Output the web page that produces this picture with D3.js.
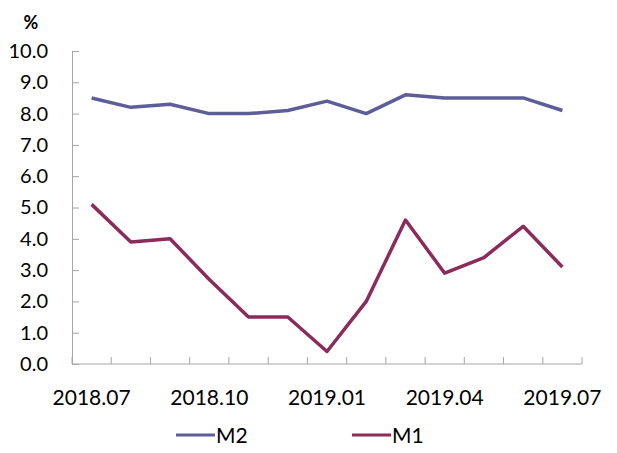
<!DOCTYPE html>
<html>
<head>
<meta charset="utf-8">
<script src="https://cdn.jsdelivr.net/npm/d3@7"></script>
<style>
  body { margin: 0; background: #fff; }
  text { font-family: Lato, "Open Sans", sans-serif; fill: #000; }
</style>
</head>
<body>
<svg id="chart" width="617" height="453"></svg>
<script>
// Monthly growth rates, 2018.07 - 2019.07
const months = ['2018.07', '2018.08', '2018.09', '2018.10', '2018.11', '2018.12',
  '2019.01', '2019.02', '2019.03', '2019.04', '2019.05', '2019.06', '2019.07'];
const m2Values = [8.5, 8.2, 8.3, 8.0, 8.0, 8.1, 8.4, 8.0, 8.6, 8.5, 8.5, 8.5, 8.1];
const m1Values = [5.1, 3.9, 4.0, 2.7, 1.5, 1.5, 0.4, 2.0, 4.6, 2.9, 3.4, 4.4, 3.1];
const xTickLabels = ['2018.07', '2018.10', '2019.01', '2019.04', '2019.07'];
const yTicks = [0, 1, 2, 3, 4, 5, 6, 7, 8, 9, 10];

const series = [
  { name: 'M2', values: m2Values, color: '#5d5d99' },
  { name: 'M1', values: m1Values, color: '#8b2b5c' }
];

const svg = d3.select('#chart');
const plot = { left: 72, right: 582, top: 51, bottom: 364 };

const x = d3.scaleBand().domain(months).range([plot.left, plot.right]);
const y = d3.scaleLinear().domain([0, 10]).range([plot.bottom, plot.top]);

const axisColor = '#a6a6a6';

// y axis with inner ticks
const yAxis = svg.append('g')
  .attr('transform', `translate(${plot.left},0)`)
  .call(d3.axisLeft(y).tickValues(yTicks).tickFormat(d3.format('.1f')).tickSizeInner(-7).tickSizeOuter(0).tickPadding(24));
yAxis.select('.domain').attr('stroke', axisColor);
yAxis.selectAll('.tick line').attr('stroke', axisColor);
yAxis.selectAll('.tick text').style('font-size', '20px').attr('fill', '#000');

// x axis: ticks on band edges
const edges = months.map((m) => x(m)).concat([x.range()[1]]);
const xAxis = svg.append('g').attr('transform', `translate(0,${plot.bottom})`);
xAxis.append('line')
  .attr('x1', plot.left).attr('x2', plot.right)
  .attr('stroke', axisColor);
xAxis.selectAll('.edge')
  .data(edges)
  .enter()
  .append('line')
  .attr('x1', (d) => d).attr('x2', (d) => d)
  .attr('y1', 0).attr('y2', -7)
  .attr('stroke', axisColor);
xAxis.selectAll('.lbl')
  .data(xTickLabels)
  .enter()
  .append('text')
  .attr('x', (d) => x(d) + x.bandwidth() / 2)
  .attr('y', 41)
  .attr('text-anchor', 'middle')
  .style('font-size', '21px')
  .text((d) => d);

// unit label
svg.append('text')
  .attr('x', 31).attr('y', 29)
  .attr('text-anchor', 'middle')
  .style('font-size', '18px')
  .style('font-weight', 'bold')
  .text('%');

// lines
const line = d3.line()
  .x((d, i) => x(months[i]) + x.bandwidth() / 2)
  .y((d) => y(d));

series.forEach((s) => {
  svg.append('path')
    .datum(s.values)
    .attr('fill', 'none')
    .attr('stroke', s.color)
    .attr('stroke-width', 3.5)
    .attr('stroke-linejoin', 'round')
    .attr('d', line);
});

// legend
const legendX = [176, 352];
series.forEach((s, i) => {
  const g = svg.append('g').attr('transform', `translate(${legendX[i]},435)`);
  g.append('line')
    .attr('x1', 0).attr('x2', 39)
    .attr('stroke', s.color)
    .attr('stroke-width', 3);
  g.append('text')
    .attr('x', 40).attr('y', 8)
    .style('font-size', '21px')
    .text(s.name);
});
</script>
</body>
</html>
